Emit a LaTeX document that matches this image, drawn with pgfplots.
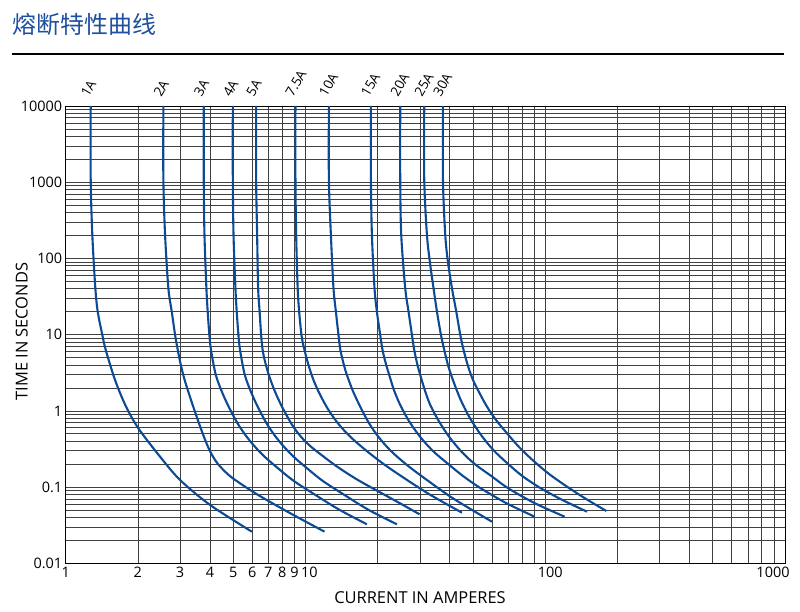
\documentclass[border=0pt]{standalone}
\usepackage{fontspec}
\setmainfont{Open Sans}
\newfontfamily\cjk{Noto Sans CJK SC}
\usepackage{pgfplots}
\pgfplotsset{compat=1.18}
\definecolor{curve}{HTML}{0C4A94}
\definecolor{titleblue}{HTML}{1E50A0}
\pgfplotsset{fuse/.style={color=curve, solid, line width=2.1bp, mark=none, smooth, tension=0.5}}
\begin{document}
\begin{tikzpicture}
\path[use as bounding box] (-65.7bp,-48.7bp) rectangle (734.3bp,563.3bp);
\node[anchor=west, text=titleblue, font=\cjk\fontsize{24}{28}\selectfont, inner sep=0pt] at (-53bp,539bp) {熔断特性曲线};
\draw[line width=1.5bp] (-53.7bp,509.3bp) -- (718.3bp,509.3bp);
\begin{axis}[
  scale only axis, width=719.3bp, height=457.3bp,
  xmode=log, ymode=log,
  xmin=1, xmax=1000, ymin=0.01, ymax=10000,
  xtick={1,2,3,4,5,6,7,8,9,10,100,1000},
  xticklabels={1,2,3,4,5,6,7,8,9,\hspace{8bp}10,\hspace{10bp}100,1000\hspace{24bp}\null},
  minor xtick={20,30,40,50,60,70,80,90,200,300,400,500,600,700,800,900},
  ytick={0.01,0.1,1,10,100,1000,10000},
  yticklabels={0.01,0.1,1,10,100,1000,10000},
  minor ytick={0.02,0.03,0.04,0.05,0.06,0.07,0.08,0.09,0.2,0.3,0.4,0.5,0.6,0.7,0.8,0.9,2,3,4,5,6,7,8,9,20,30,40,50,60,70,80,90,200,300,400,500,600,700,800,900,2000,3000,4000,5000,6000,7000,8000,9000},
  grid=both,
  major grid style={black!75, line width=0.7bp},
  minor grid style={black!75, line width=0.7bp},
  major tick length=0pt, minor tick length=0pt,
  axis line style={black, line width=0.8bp},
  /pgf/number format/assume math mode=true,
  tick label style={font=\fontsize{14.5}{16}\selectfont},
  xlabel={CURRENT IN AMPERES}, ylabel={TIME IN SECONDS},
  label style={font=\fontsize{16.5}{19}\selectfont},
  xlabel style={at={(axis description cs:0.4926,-0.0759)}, anchor=center},
  ylabel style={at={(axis description cs:-0.0612,0.5066)}, anchor=center},
  clip=false,
]
% 1A
\addplot[fuse] coordinates {(1.2715,10000) (1.2715,1072) (1.2913,203.4) (1.3291,41.02) (1.3601,20.04) (1.4216,9.91) (1.4689,6.30) (1.6061,2.544) (1.7800,1.160) (2.0091,0.5909) (2.4749,0.2506) (2.9992,0.1239) (4.0019,0.05823) (5.974,0.026)};
% 2A
\addplot[fuse] coordinates {(2.5548,10000) (2.5548,1072) (2.5969,203.4) (2.6806,40.64) (2.7697,20.04) (2.8590,9.91) (2.9342,6.30) (3.0079,4.253) (3.1167,2.702) (3.2796,1.617) (3.4743,0.9385) (3.6806,0.5615) (3.8621,0.3791) (4.0135,0.2888) (4.2518,0.2135) (4.5485,0.1677) (4.9584,0.1316) (6.0094,0.08757) (7.0087,0.06572) (8.9110,0.04302) (12.004,0.026)};
% 3A
\addplot[fuse] coordinates {(3.7664,10000) (3.7664,1072) (3.7918,203.4) (3.8621,41.02) (3.9106,20.04) (3.9751,9.91) (4.0367,6.30) (4.2272,2.959) (4.5212,1.667) (4.8826,0.997) (5.3234,0.6149) (5.9176,0.3906) (6.7050,0.2559) (7.7446,0.1728) (8.9453,0.1202) (10.841,0.0812) (13.785,0.05082) (18.045,0.03249)};
% 4A
\addplot[fuse] coordinates {(4.9774,10000) (4.9774,1072) (5.0111,203.4) (5.1034,41.02) (5.1675,20.04) (5.2527,9.91) (5.3340,6.30) (5.5857,2.959) (5.9748,1.667) (6.4518,0.997) (7.0347,0.6149) (7.8193,0.3906) (8.8596,0.2559) (10.233,0.1728) (11.820,0.1202) (14.326,0.0812) (18.215,0.05082) (24.070,0.03249)};
% 5A
\addplot[fuse] coordinates {(6.2265,10000) (6.2265,1072) (6.2865,203.4) (6.3473,41.02) (6.4395,20.04) (6.5330,9.91) (6.6278,6.30) (6.7889,4.383) (7.0550,2.871) (7.4737,1.770) (7.9937,1.125) (8.8001,0.6531) (9.5951,0.4545) (10.462,0.3462) (11.518,0.2718) (13.432,0.1892) (16.278,0.1277) (20.699,0.08368) (25.085,0.06002) (29.909,0.04395)};
% 7.5A
\addplot[fuse] coordinates {(9.0836,10000) (9.0836,1072) (9.1451,203.4) (9.2779,41.02) (9.4126,20.04) (9.6230,9.91) (9.8569,6.69) (10.292,4.004) (10.799,2.544) (11.518,1.617) (12.474,1.028) (13.732,0.6731) (15.410,0.4545) (17.800,0.3067) (21.166,0.2010) (26.143,0.1277) (33.243,0.07878) (44.954,0.04613)};
% 10A
\addplot[fuse] coordinates {(12.522,10000) (12.522,1072) (12.765,203.4) (13.088,40.64) (13.394,20.04) (13.732,9.91) (13.985,6.30) (14.464,4.004) (14.887,2.959) (15.769,1.824) (16.917,1.135) (18.391,0.6938) (20.170,0.4545) (22.722,0.2977) (26.497,0.1950) (32.112,0.1239) (41.629,0.06981) (59.977,0.03514)};
% 15A
\addplot[fuse] coordinates {(18.749,10000) (18.749,1072) (18.930,203.4) (19.409,40.64) (19.861,20.04) (20.501,9.91) (20.959,6.30) (21.655,4.126) (22.289,3.050) (23.386,1.880) (24.845,1.195) (27.012,0.7372) (30.110,0.4545) (34.018,0.2977) (38.920,0.2072) (45.389,0.1398) (53.600,0.09731) (68.612,0.06185) (90.315,0.04088)};
% 20A
\addplot[fuse] coordinates {(24.845,10000) (24.845,1072) (25.085,203.4) (26.068,40.64) (26.908,20.04) (27.802,9.91) (28.423,6.30) (29.254,4.126) (30.110,2.959) (31.443,1.880) (33.148,1.195) (35.968,0.7372) (39.790,0.4545) (44.868,0.2888) (51.083,0.1980) (59.576,0.1398) (69.810,0.09731) (90.055,0.06185) (120.50,0.04088)};
% 25A
\addplot[fuse] coordinates {(31.291,10000) (31.291,1072) (32.112,203.4) (33.148,82.2) (34.215,40.64) (35.351,20.04) (36.737,9.91) (37.921,6.30) (39.408,3.883) (41.349,2.469) (44.228,1.433) (48.219,0.8318) (53.600,0.4975) (60.730,0.3067) (69.275,0.2072) (80.236,0.1398) (95.400,0.09731) (117.86,0.06774) (149.44,0.04754)};
% 30A
\addplot[fuse] coordinates {(37.449,10000) (37.449,1072) (38.286,203.4) (39.297,90.0) (40.834,40.64) (42.560,20.04) (44.228,9.91) (45.650,6.30) (47.621,3.883) (49.963,2.544) (53.446,1.667) (57.164,1.135) (62.324,0.7597) (69.275,0.5082) (77.733,0.3359) (89.452,0.2200) (103.72,0.1486) (123.31,0.1012) (148.01,0.06981) (179.90,0.04857)};
\foreach \xx/\lab in {1.2715/1A,2.5548/2A,3.7664/3A,4.9774/4A,6.2265/5A,9.0836/7.5A,12.522/10A,18.749/15A,24.845/20A,31.291/25A,37.449/30A}{
  \edef\temp{\noexpand\node[xshift=-2bp, yshift=8bp, rotate=60, anchor=south west, inner sep=0pt, font=\noexpand\fontsize{13.5}{16}\noexpand\selectfont] at (axis cs:\xx,10000) {\lab};}
  \temp
}
\end{axis}
\end{tikzpicture}
\end{document}
